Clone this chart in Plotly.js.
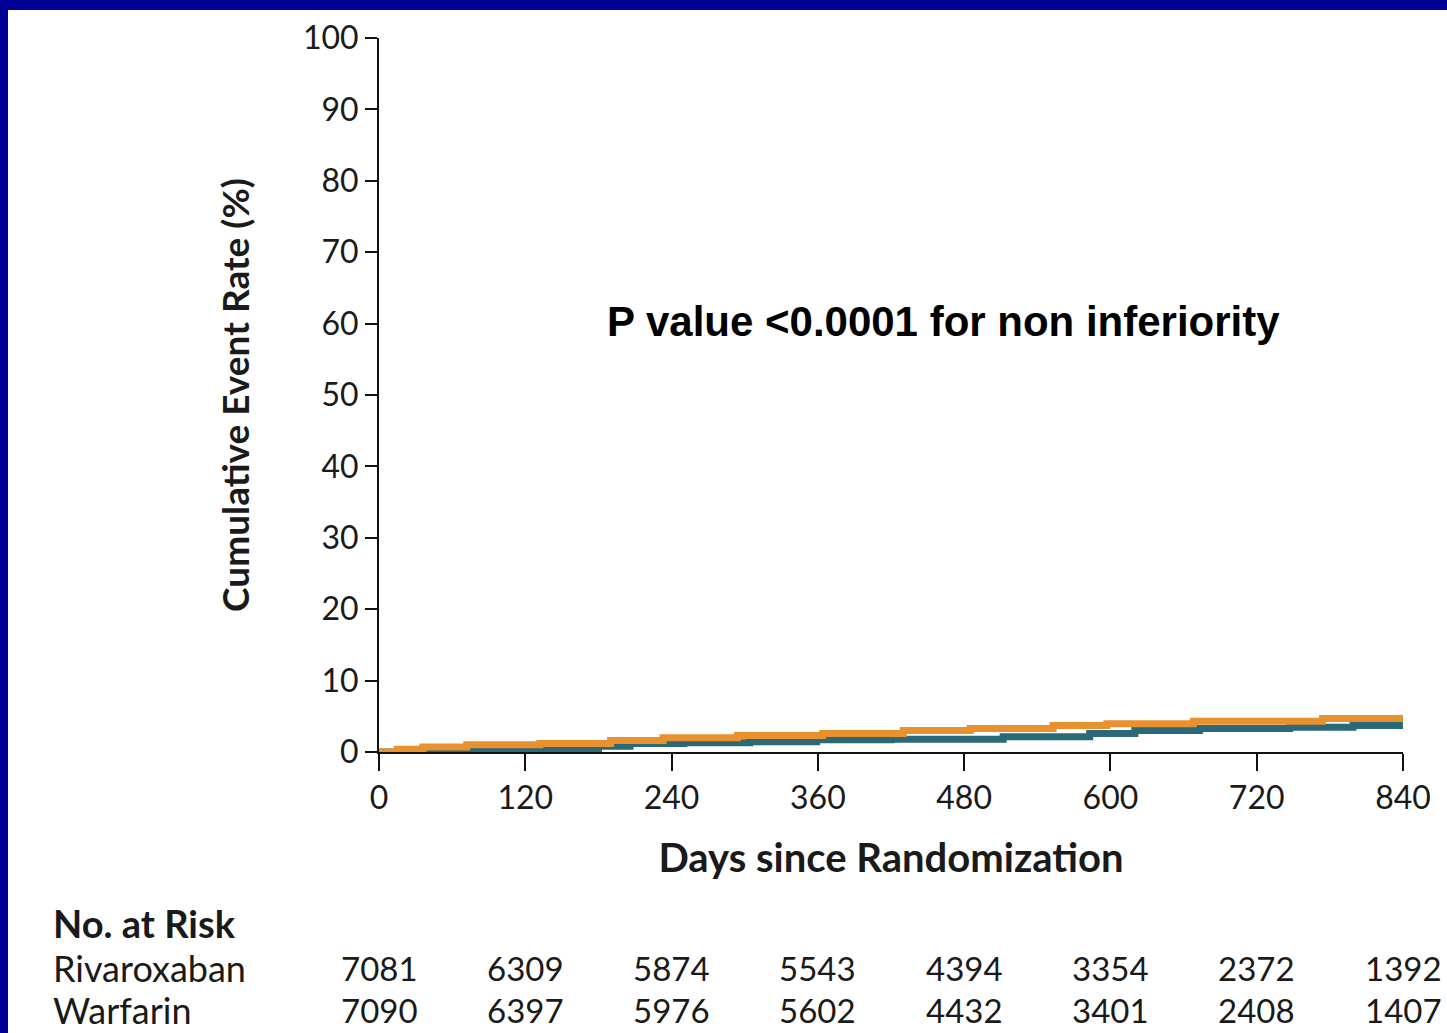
<!DOCTYPE html>
<html>
<head>
<meta charset="utf-8">
<script src="https://cdn.plot.ly/plotly-3.0.1.min.js"></script>
<style>
  html, body { margin:0; padding:0; width:1447px; height:1033px; overflow:hidden; background:#000099; }
  #chart { position:absolute; left:8px; top:10px; width:1439px; height:1023px; background:#ffffff; }
</style>
</head>
<body>
<div id="chart"></div>
<script>
// Kaplan-Meier style cumulative event rate (%)
const rivaroxabanDays = [0, 60, 120, 140, 180, 206, 250, 304, 359, 420, 512, 583, 620, 673, 747, 799, 840];
const rivaroxabanRate = [0, 0.1, 0.2, 0.4, 0.8, 1.2, 1.3, 1.45, 1.7, 1.8, 2.15, 2.6, 3.0, 3.3, 3.45, 3.7, 3.7];

const warfarinDays = [0, 15, 36, 72, 132, 190, 233, 294, 364, 430, 485, 553, 597, 668, 774, 840];
const warfarinRate = [0, 0.4, 0.7, 1.0, 1.2, 1.6, 2.0, 2.3, 2.6, 3.0, 3.3, 3.7, 3.95, 4.3, 4.7, 4.7];

// Number at risk table
const riskDays = [0, 120, 240, 360, 480, 600, 720, 840];
const riskRivaroxaban = [7081, 6309, 5874, 5543, 4394, 3354, 2372, 1392];
const riskWarfarin = [7090, 6397, 5976, 5602, 4432, 3401, 2408, 1407];
const groupLabels = ["Rivaroxaban", "Warfarin"];

const yTicks = [0, 10, 20, 30, 40, 50, 60, 70, 80, 90, 100];
const xTicks = [0, 120, 240, 360, 480, 600, 720, 840];

const textColor = "#1a1a1a";
const fontFam = "Lato, 'Open Sans', sans-serif";

const traces = [
  {
    x: rivaroxabanDays, y: rivaroxabanRate, type: "scatter", mode: "lines",
    line: { shape: "hv", color: "#2b6878", width: 7 }, name: "Rivaroxaban", hoverinfo: "skip"
  },
  {
    x: warfarinDays, y: warfarinRate, type: "scatter", mode: "lines",
    line: { shape: "hv", color: "#e8912e", width: 7 }, name: "Warfarin", hoverinfo: "skip"
  }
];

// plot area is 714 px tall; convert pixel offsets below the x axis into paper units
const plotH = 714;
const rowY = (px) => -px / plotH;

const annotations = [
  {
    text: "<b>P value &lt;0.0001 for non inferiority</b>",
    xref: "paper", yref: "paper", x: 0.551, y: (752 - 321) / plotH,
    xanchor: "center", yanchor: "middle", showarrow: false,
    font: { family: "'Liberation Sans', Arial, sans-serif", size: 42, color: "#000000" }
  },
  {
    text: "<b>No. at Risk</b>",
    xref: "paper", yref: "paper", x: (51 - 379) / 1024, y: rowY(923 - 752),
    xanchor: "left", yanchor: "middle", showarrow: false,
    font: { family: fontFam, size: 38, color: textColor }
  }
];

const riskRows = [riskRivaroxaban, riskWarfarin];
const rowPix = [968, 1010];
riskRows.forEach((row, r) => {
  annotations.push({
    text: groupLabels[r], xref: "paper", yref: "paper",
    x: (51 - 379) / 1024, y: rowY(rowPix[r] - 752),
    xanchor: "left", yanchor: "middle", showarrow: false,
    font: { family: fontFam, size: 36, color: textColor }
  });
  row.forEach((v, i) => {
    annotations.push({
      text: String(v), xref: "x", yref: "paper",
      x: riskDays[i], y: rowY(rowPix[r] - 752),
      xanchor: "center", yanchor: "middle", showarrow: false,
      font: { family: fontFam, size: 33, color: textColor }
    });
  });
});

const layout = {
  width: 1439, height: 1023,
  margin: { l: 371, r: 44, t: 28, b: 281 },
  paper_bgcolor: "#ffffff", plot_bgcolor: "#ffffff",
  showlegend: false,
  font: { family: fontFam, color: textColor },
  xaxis: {
    range: [0, 840], tickvals: xTicks, ticktext: xTicks.map(String),
    showline: true, linecolor: "#111111", linewidth: 2,
    ticks: "outside", ticklen: 17, tickwidth: 2, tickcolor: "#111111",
    showgrid: false, zeroline: false,
    tickfont: { family: fontFam, size: 32, color: textColor },
    title: { text: "<b>Days since Randomization</b>", standoff: 29,
             font: { family: fontFam, size: 40, color: textColor } }
  },
  yaxis: {
    range: [0, 100], tickvals: yTicks, ticktext: yTicks.map(String),
    showline: true, linecolor: "#111111", linewidth: 2,
    ticks: "outside", ticklen: 12, tickwidth: 2, tickcolor: "#111111",
    showgrid: false, zeroline: false,
    tickfont: { family: fontFam, size: 32, color: textColor },
    title: { text: "<b>Cumulative Event Rate (%)</b>", standoff: 42,
             font: { family: fontFam, size: 37, color: textColor } }
  },
  annotations: annotations
};

Plotly.newPlot("chart", traces, layout, { displayModeBar: false, staticPlot: true });
</script>
</body>
</html>
